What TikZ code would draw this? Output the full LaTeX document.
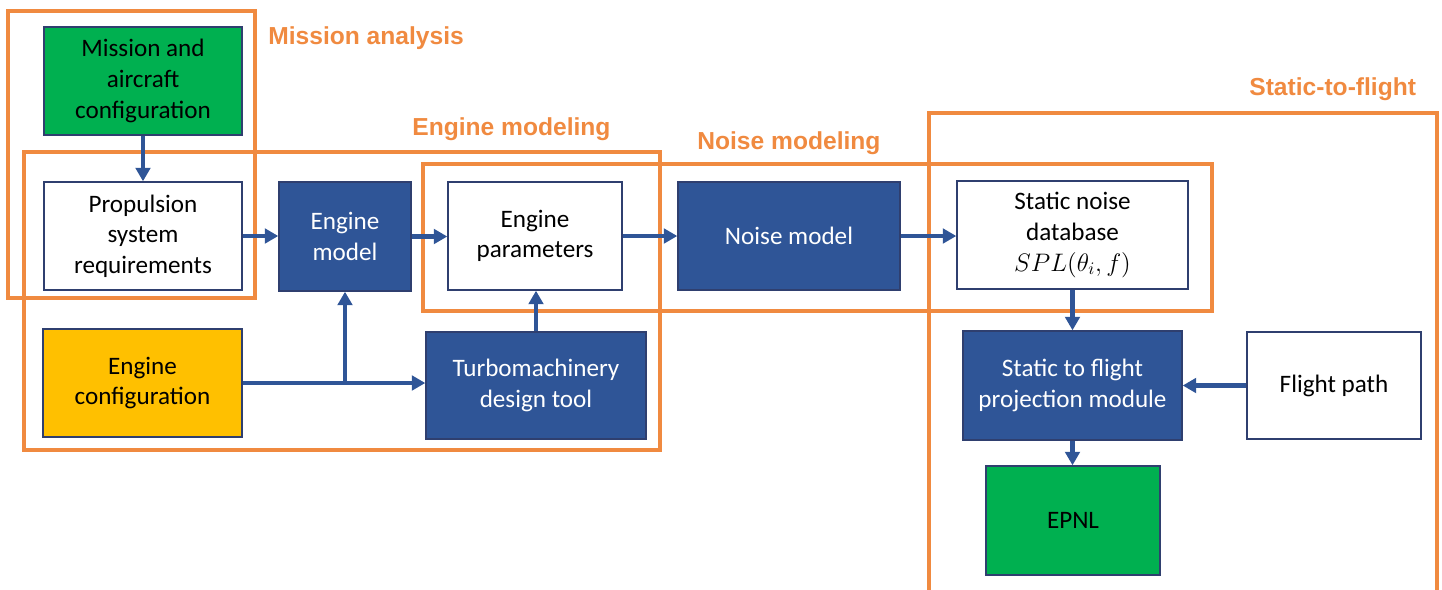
\documentclass[tikz,border=0pt]{standalone}
\usepackage{fontspec}
\setmainfont{Carlito}
\newfontfamily\hdrfont{Liberation Sans}
\usetikzlibrary{arrows.meta}
\definecolor{boxblue}{HTML}{2F5597}
\definecolor{boxgreen}{HTML}{00B050}
\definecolor{boxyellow}{HTML}{FFC000}
\definecolor{grporange}{HTML}{F08A40}
\definecolor{edgecol}{HTML}{2F3F6F}
\tikzset{
  box/.style={draw=edgecol, line width=0.8pt, inner sep=2pt, align=center,
    font=\fontsize{14.3pt}{17.4pt}\selectfont},
  whitebox/.style={box, fill=white, text=black},
  bluebox/.style={box, fill=boxblue, text=white},
  greenbox/.style={box, fill=boxgreen, text=black},
  yellowbox/.style={box, fill=boxyellow, text=black},
  group/.style={draw=grporange, line width=2.3pt},
  grouplabel/.style={text=grporange, font=\hdrfont\bfseries\fontsize{14pt}{16pt}\selectfont, inner sep=0pt, anchor=west},
  flow/.style={draw=boxblue, line width=2.3pt, -{Triangle[length=0.27cm,width=0.29cm]}},
}
\begin{document}
\begin{tikzpicture}[x=0.02cm, y=-0.02cm]
\useasboundingbox (0,0) rectangle (1442,589);

% group frames
\draw[group] (8,11) rectangle (255,298);
\draw[group] (24,152) rectangle (660,450);
\draw[group] (423,164) rectangle (1212,311);
\draw[group] (929,600) -- (929,113) -- (1437,113) -- (1437,600);

% group labels
\node[grouplabel] (lmission) at (268,38) {Mission analysis};
\node[grouplabel] (lengine) at (412,129) {Engine modeling};
\node[grouplabel] (lnoise) at (697,143) {Noise modeling};
\node[grouplabel] (lstatic) at (1249,89) {Static-to-flight};

% nodes
\node[greenbox, minimum width=3.96cm, minimum height=2.16cm] (mission) at (143,81) {Mission and\\aircraft\\configuration};
\node[whitebox, minimum width=3.96cm, minimum height=2.16cm] (prop) at (143,236) {Propulsion\\system\\requirements};
\node[bluebox, minimum width=2.64cm, minimum height=2.18cm] (engmodel) at (345,236.5) {Engine\\model};
\node[whitebox, minimum width=3.48cm, minimum height=2.16cm] (engparams) at (535,236) {Engine\\parameters};
\node[bluebox, minimum width=4.44cm, minimum height=2.16cm] (noise) at (789,236) {Noise model};
\node[whitebox, minimum width=4.62cm, minimum height=2.16cm] (staticdb) at (1072.5,235) {Static noise\\database\\$SPL(\theta_i,f)$};
\node[yellowbox, minimum width=3.98cm, minimum height=2.16cm] (engconf) at (142.5,383) {Engine\\configuration};
\node[bluebox, minimum width=4.40cm, minimum height=2.14cm] (turbo) at (536,385.5) {Turbomachinery\\design tool};
\node[bluebox, minimum width=4.38cm, minimum height=2.18cm] (module) at (1072.5,385.5) {Static to flight\\projection module};
\node[whitebox, minimum width=3.48cm, minimum height=2.14cm] (flight) at (1334,385.5) {Flight path};
\node[greenbox, minimum width=3.48cm, minimum height=2.18cm] (epnl) at (1073,520.5) {EPNL};

% connectors
\draw[flow] (mission.south) -- (prop.north);
\draw[flow] (prop.east) -- (prop.east -| engmodel.west);
\draw[flow] (engmodel.east) -- (engmodel.east -| engparams.west);
\draw[flow] (engparams.east) -- (engparams.east -| noise.west);
\draw[flow] (noise.east) -- (noise.east -| staticdb.west);
\draw[flow] (staticdb.south) -- (staticdb.south |- module.north);
\draw[flow] (module.south) -- (module.south |- epnl.north);
\draw[flow] (flight.west) -- (flight.west -| module.east);
\coordinate (junction) at (engmodel.south |- engconf.east);
\draw[flow] (engconf.east) -- (engconf.east -| turbo.west);
\draw[flow] (junction) -- (engmodel.south);
\draw[flow] (turbo.north) -- (turbo.north |- engparams.south);
\end{tikzpicture}
\end{document}
